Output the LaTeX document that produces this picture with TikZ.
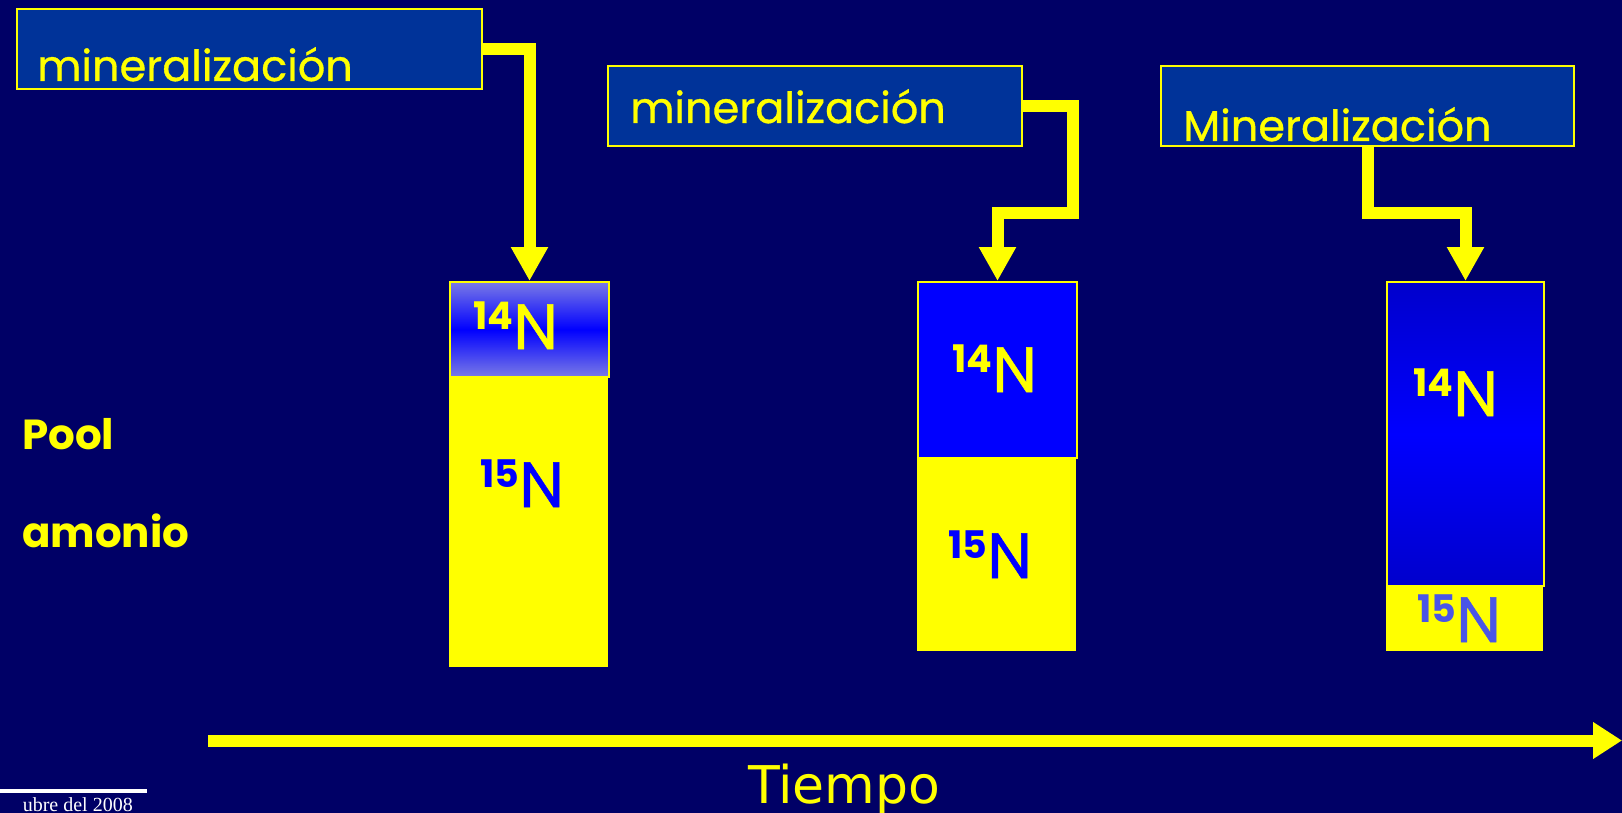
\documentclass[tikz,border=0pt]{standalone}
\usepackage{fontspec}
\setmainfont{Poppins}
\newfontfamily\cfont[FakeBold=0.8]{Poppins}
\newfontfamily\tfont{DejaVu Sans}
\newfontfamily\dfont{Liberation Serif}
\usetikzlibrary{arrows.meta}
\definecolor{bg}{RGB}{0,0,102}
\definecolor{boxc}{RGB}{0,51,153}
\definecolor{yel}{RGB}{255,255,0}
\definecolor{blu}{RGB}{0,0,255}
\definecolor{lav}{RGB}{122,122,230}
\definecolor{dblu}{RGB}{0,0,204}
\definecolor{mblu}{RGB}{74,85,230}
\newcommand\isolbl[2]{\raisebox{20pt}{\fontsize{38}{38}\selectfont\bfseries #1}{\cfont\fontsize{64}{64}\selectfont #2}}
\begin{document}
\begin{tikzpicture}[x=1pt,y=-1pt,
  lbox/.style={draw=yel, line width=2pt, fill=boxc, inner sep=0pt, outer sep=0pt, anchor=north west},
  ltxt/.style={text=yel, inner sep=0pt, anchor=base west, font=\cfont\fontsize{43}{43}\selectfont},
  topbar/.style={draw=yel, line width=2pt, inner sep=0pt, anchor=north west, minimum width=159pt},
  ybar/.style={fill=yel, inner sep=0pt, outer sep=0pt, anchor=north west, minimum width=159pt},
  iso/.style={inner sep=0pt, anchor=base west},
  conn/.style={draw=yel, line width=12pt, line join=miter, -{Triangle[width=35pt,length=34pt]}},
  side/.style={text=yel, inner sep=0pt, anchor=base west, font=\fontsize{42}{42}\selectfont\bfseries}]
\fill[bg] (0,0) rectangle (1622,813);
\useasboundingbox (0,0) rectangle (1622,813);
% label boxes
\node[lbox, minimum width=465pt, minimum height=80pt] (m1) at (16.5,9.3) {};
\node[ltxt] (t1) at (37,81) {mineralización};
\node[lbox, minimum width=414pt, minimum height=80pt] (m2) at (608,66) {};
\node[ltxt] (t2) at (630,123) {mineralización};
\node[lbox, minimum width=413pt, minimum height=80pt] (m3) at (1161,66) {};
\node[ltxt] (t3) at (1183,141) {Mineralización};
% bars: yellow lower parts
\node[ybar, minimum height=291pt] (y1) at (449,376) {};
\node[ybar, minimum height=194pt] (y2) at (917,457) {};
\node[ybar, minimum height=66pt, minimum width=157pt] (y3) at (1386,585) {};
% bars: blue upper parts
\node[topbar, minimum height=95pt, top color=lav, bottom color=lav, middle color=blu] (b1) at (449,281) {};
\node[topbar, minimum height=176pt, fill=blu] (b2) at (917,281) {};
\node[topbar, minimum height=304pt, minimum width=157pt, top color=dblu, bottom color=dblu, middle color=blu] (b3) at (1386,281) {};
% isotope labels
\node[iso, text=yel] (n14a) at (473,349) {\isolbl{14}{N}};
\node[iso, text=blu] (n15a) at (480,507) {\isolbl{15}{N}};
\node[iso, text=yel] (n14b) at (952,392) {\isolbl{14}{N}};
\node[iso, text=blu] (n15b) at (948,578) {\isolbl{15}{N}};
\node[iso, text=yel] (n14c) at (1413,416) {\isolbl{14}{N}};
\node[iso, text=mblu] (n15c) at (1417,642) {\isolbl{15}{N}};
% connectors
\draw[conn] (m1.east) -| (b1.north);
\draw[conn] (m2.east) -| ++(50.5,107.5) -| (b2.north);
\draw[conn] (m3.south) -- ++(0,67.5) -| (b3.north);
% side labels
\node[side] (pool) at (22,449) {Pool};
\node[side] (amon) at (22,547) {amonio};
% time axis
\coordinate (ta) at (208,740.5);
\coordinate (tb) at (1622,740.5);
\draw[yel, line width=12pt, -{Triangle[width=35pt,length=29pt]}] (ta) -- (tb);
\node[text=yel, inner sep=0pt, anchor=base west, font=\tfont\fontsize{52}{52}\selectfont] (tiempo) at (748,803) {Tiempo};
% footer
\draw[white, line width=4pt] (0,791) -- (147,791);
\node[text=white, inner sep=0pt, anchor=base east, font=\dfont\fontsize{20}{20}\selectfont] (date) at (133,811) {ubre del 2008};
\end{tikzpicture}
\end{document}
